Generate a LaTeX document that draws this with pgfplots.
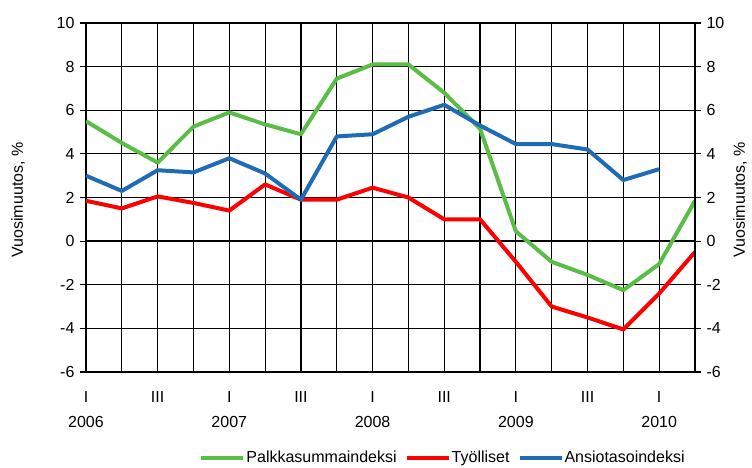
\documentclass[border=0pt]{standalone}
\usepackage{pgfplots}
\pgfplotsset{compat=1.18}
\usepackage{fontspec}
\setmainfont{Liberation Sans}

\definecolor{palkka}{RGB}{90,190,70}
\definecolor{tyo}{RGB}{255,0,0}
\definecolor{ansio}{RGB}{31,107,181}

% quarters 2006 I ... 2010 II, index 0..17
\pgfplotstableread{
q  palkka tyo   ansio
0  5.5    1.85  3.0
1  4.5    1.5   2.3
2  3.6    2.05  3.25
3  5.25   1.75  3.15
4  5.9    1.4   3.8
5  5.35   2.6   3.1
6  4.9    1.9   1.9
7  7.45   1.9   4.8
8  8.1    2.45  4.9
9  8.1    2.0   5.7
10 6.8    1.0   6.25
11 5.15   1.0   5.3
12 0.45  -0.95  4.45
13 -0.95 -3.0   4.45
14 -1.55 -3.5   4.2
15 -2.25 -4.05  2.8
16 -1.05 -2.4   3.3
17 1.85  -0.5   nan
}\datatable

\begin{document}
\begin{tikzpicture}
\fontsize{16}{25}\selectfont
\path[use as bounding box] (-86pt,-96pt) rectangle (666pt,372pt);

\pgfplotsset{
  base/.style={
    scale only axis, width=609pt, height=349pt,
    at={(0pt,0pt)}, anchor=south west,
    xmin=0, xmax=17, ymin=-6, ymax=10,
    ytick={-6,-4,...,10},
    /pgf/number format/assume math mode=true,
    ticklabel style={font=\fontsize{16}{25}\selectfont},
    ytick align=outside, major tick length=6pt,
    tick style={black, line width=1.2pt},
    axis line style={black, line width=1.2pt},
  },
}

\begin{axis}[base,
  ytick pos=left,
  xtick={0,...,17},
  xticklabels={{I\\2006},,{III\\\mbox{}},,{I\\2007},,{III\\\mbox{}},,{I\\2008},,{III\\\mbox{}},,{I\\2009},,{III\\\mbox{}},,{I\\2010},},
  xticklabel style={align=center, anchor=north, yshift=-14pt},
  xtick style={draw=none},
  grid=major,
  grid style={black, line width=1.2pt},
  yticklabel style={anchor=east},
  ylabel={Vuosimuutos, \%},
  ylabel style={at={(axis description cs:-0.1117,0.493)}, anchor=center, font=\fontsize{16}{20}\selectfont},
  legend columns=-1,
  legend style={at={(axis description cs:0.5854,-0.2464)}, anchor=center,
    draw=none, fill=none, inner sep=0pt,
    font=\fontsize{16}{20}\selectfont,
    nodes={inner sep=1pt},
    /tikz/every even column/.append style={column sep=7pt}},
  legend image code/.code={\draw[#1, line width=4pt] (0pt,0pt) -- (42pt,0pt);},
  every axis plot/.append style={line width=4pt, line join=round},
]
\draw[black, line width=2.4pt] (axis cs:0,0) -- (axis cs:17,0);
\addplot[palkka, no marks] table[x=q, y=palkka] {\datatable};
\addlegendentry{Palkkasummaindeksi}
\addplot[tyo, no marks] table[x=q, y=tyo] {\datatable};
\addlegendentry{Työlliset}
\addplot[ansio, no marks, unbounded coords=jump] table[x=q, y=ansio] {\datatable};
\addlegendentry{Ansiotasoindeksi}
\end{axis}

\begin{axis}[base,
  axis x line=none,
  axis y line*=right,
  yticklabel style={anchor=west},
  ylabel={Vuosimuutos, \%},
  ylabel style={at={(axis description cs:1.0739,0.493)}, anchor=center, rotate=0, font=\fontsize{16}{20}\selectfont},
]
\end{axis}
\end{tikzpicture}
\end{document}
